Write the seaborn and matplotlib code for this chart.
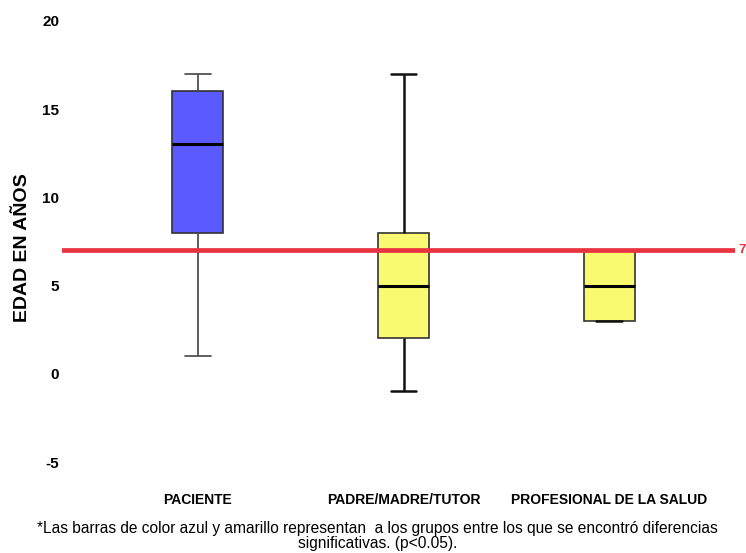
import matplotlib
matplotlib.use("Agg")
import matplotlib.pyplot as plt
import seaborn as sns
import pandas as pd

# Five-number summaries (min, Q1, median, Q3, max) of age per respondent group
categories = ["PACIENTE", "PADRE/MADRE/TUTOR", "PROFESIONAL DE LA SALUD"]
paciente = [1, 8, 13, 16, 17]
padre_madre_tutor = [-1, 2, 5, 8, 17]
profesional_salud = [3, 3, 5, 7, 7]
box_colors = ["#5a5aff", "#fafa70", "#fafa70"]
reference_age = 7
y_ticks = [-5, 0, 5, 10, 15, 20]

df = pd.DataFrame({
    "grupo": [categories[0]] * 5 + [categories[1]] * 5 + [categories[2]] * 5,
    "edad": paciente + padre_madre_tutor + profesional_salud,
})

sns.set_theme(style="white")
plt.rcParams["font.family"] = ["Liberation Sans", "DejaVu Sans"]
plt.rcParams["text.color"] = "black"
plt.rcParams["xtick.color"] = "black"
plt.rcParams["ytick.color"] = "black"
plt.rcParams["axes.labelcolor"] = "black"

fig = plt.figure(figsize=(7.46, 5.53), dpi=100)
ax = fig.add_axes([0.083, 0.139, 0.902, 0.841])

sns.boxplot(
    data=df, x="grupo", y="edad", hue="grupo", order=categories,
    palette=dict(zip(categories, box_colors)), legend=False, saturation=1,
    whis=(0, 100), width=0.25, ax=ax,
    boxprops=dict(edgecolor="#333333", linewidth=1.2),
    medianprops=dict(color="black", linewidth=2.2),
    whiskerprops=dict(color="#111111", linewidth=1.8),
    capprops=dict(color="#111111", linewidth=1.8),
)
# first group drawn with lighter, thinner whiskers
first = ax.containers[0]
for ln in list(first.whiskers) + list(first.caps):
    ln.set_color("#444444")
    ln.set_linewidth(1.2)

ax.axhline(reference_age, color="#ea3340", linewidth=3.4, zorder=5)
ax.text(1.006, reference_age, str(reference_age), transform=ax.get_yaxis_transform(),
        color="#ea3340", fontsize=9.5, fontweight="bold", ha="left", va="center",
        clip_on=False)

ax.set_xlim(-0.66, 2.61)
ax.set_ylim(-5.8, 20.55)
ax.set_yticks(y_ticks)
ax.set_yticklabels([str(t) for t in y_ticks], fontsize=11, fontweight="bold")
ax.tick_params(axis="y", length=0, pad=2)
ax.tick_params(axis="x", length=0, pad=12)
for lbl in ax.get_xticklabels():
    lbl.set_fontweight("bold")
    lbl.set_fontsize(10)
ax.set_xlabel("")
ax.set_ylabel("EDAD EN AÑOS", fontsize=14, fontweight="bold")
ax.yaxis.set_label_coords(-0.046, 0.492)
for s in ax.spines.values():
    s.set_visible(False)

fig.text(0.506, 0.031,
         "*Las barras de color azul y amarillo representan  a los grupos entre los que se encontró diferencias\nsignificativas. (p<0.05).",
         ha="center", va="center", fontsize=11.2, linespacing=1.0)

fig.savefig("out.png", dpi=100)
